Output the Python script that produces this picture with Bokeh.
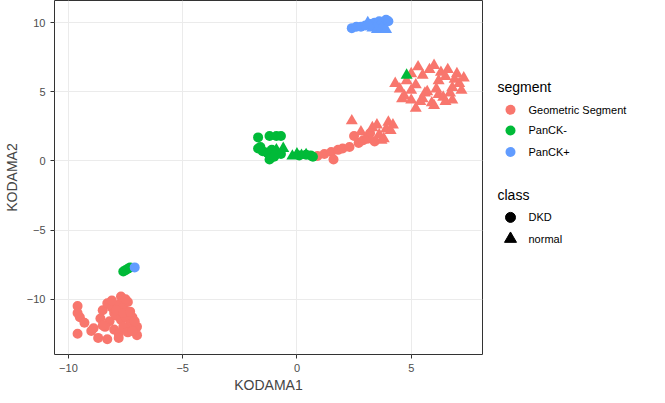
from bokeh.plotting import figure
from bokeh.layouts import row
from bokeh.models import Range1d
from bokeh.core.properties import value
from bokeh.embed import file_html
from bokeh.resources import INLINE

COLORS = {"Geometric Segment": "#F8766D", "PanCK-": "#00BA38", "PanCK+": "#619CFF"}

# (x, y) values, per segment and class
geo_dkd_x = [-9.6, -9.5, -9.3, -9.6, -9.6, -9.0, -8.7, -8.5, -8.3, -8.1, -8.0, -7.8, -7.6, -7.4, -7.2, -7.0,
             -8.6, -8.2, -7.9, -7.7, -7.5, -7.3, -8.4, -8.0, -7.8, -7.6, -7.4, -7.1, -8.1, -7.7, -7.5, -7.0,
             -8.9, -8.3, -7.8, -7.9, -7.6, -7.3, -8.5, -7.2,
             0.9, 1.2, 1.5, 1.8, 2.0, 2.3, 1.6, 2.7, 2.9, 3.2, 2.5, 3.1, 3.4]
geo_dkd_y = [-10.5, -11.3, -11.7, -11.0, -12.5, -12.3, -12.8, -10.8, -10.3, -10.6, -11.0, -10.4, -10.6, -10.2, -11.3, -12.0,
             -11.4, -11.6, -11.2, -11.5, -11.3, -11.8, -12.0, -12.2, -12.5, -12.0, -12.4, -11.6, -10.1, -9.8, -10.0, -12.6,
             -12.1, -12.9, -12.8, -10.8, -11.0, -10.9, -11.9, -12.3,
             0.35, 0.5, 0.65, 0.8, 0.9, 1.0, 0.1, 1.3, 1.5, 2.0, 1.8, 1.6, 1.4]
geo_norm_x = [2.4, 2.8, 3.0, 3.3, 3.5, 3.7, 3.9, 4.0, 4.2, 3.6, 3.8, 4.1,
              4.3, 4.5, 4.6, 4.8, 5.0, 5.2, 5.3, 5.5, 5.6, 5.8, 6.0, 6.2, 6.3, 6.5, 6.6, 6.8, 7.0, 7.2,
              4.7, 5.0, 5.4, 5.7, 6.1, 6.4, 6.7, 7.1, 5.2, 5.9, 6.5, 6.9, 5.5, 6.2, 5.0, 6.0, 6.8, 7.3]
geo_norm_y = [2.9, 2.1, 1.6, 2.4, 2.6, 1.5, 2.3, 2.8, 2.6, 1.9, 1.6, 2.2,
              5.6, 5.2, 4.5, 5.8, 6.3, 5.5, 6.8, 6.2, 4.9, 6.6, 6.9, 5.8, 6.4, 6.1, 6.6, 5.3, 6.3, 5.1,
              4.7, 4.4, 4.3, 5.0, 5.2, 4.6, 4.9, 5.6, 3.8, 4.2, 4.3, 5.9, 4.5, 4.8, 5.1, 4.0, 4.4, 6.0]
pos_dkd_x = [2.4, 2.6, 2.8, 3.0, 3.2, 3.4, 3.6, 3.7, 3.9, 4.0, -7.1]
pos_dkd_y = [9.6, 9.7, 9.7, 9.8, 9.9, 10.0, 10.1, 9.9, 10.2, 10.1, -7.7]
pos_norm_x = [3.3, 3.5, 3.7, 3.9, 3.1]
pos_norm_y = [9.6, 9.5, 9.6, 9.5, 10.0]
neg_dkd_x = [-1.7, -1.2, -0.9, -0.7, -1.7, -1.5, -1.3, -1.1, -0.9, -1.2, -1.0, -0.7, -1.6, 0.6, 0.7, 0.4, 0.1,
             -7.6, -7.5, -7.4, -7.3]
neg_dkd_y = [1.7, 1.8, 1.8, 1.8, 0.9, 0.7, 0.6, 0.8, 0.5, 0.1, 0.3, 0.5, 1.0, 0.4, 0.3, 0.45, 0.4,
             -8.0, -7.9, -7.8, -7.7]
neg_norm_x = [-0.9, -0.6, -0.2, 0.0, 0.2, 0.4, 4.8]
neg_norm_y = [0.8, 0.9, 0.35, 0.5, 0.4, 0.45, 6.2]

groups = [
    ("Geometric Segment", "circle", geo_dkd_x, geo_dkd_y),
    ("Geometric Segment", "triangle", geo_norm_x, geo_norm_y),
    ("PanCK-", "circle", neg_dkd_x, neg_dkd_y),
    ("PanCK-", "triangle", neg_norm_x, neg_norm_y),
    ("PanCK+", "circle", pos_dkd_x, pos_dkd_y),
    ("PanCK+", "triangle", pos_norm_x, pos_norm_y),
]

FONT = "Liberation Sans"

p = figure(width=485, height=395, output_backend="svg", toolbar_location=None,
           x_range=Range1d(-10.61, 8.12), y_range=Range1d(-14.0, 11.6),
           min_border_left=39, min_border_right=3, min_border_top=0, min_border_bottom=39)
for seg, mk, xs, ys in groups:
    p.scatter(xs, ys, marker=mk, size=10 if mk == "circle" else 12, color=COLORS[seg], line_color=None)

p.xaxis.ticker = [-10, -5, 0, 5]
p.yaxis.ticker = [-10, -5, 0, 5, 10]
for ax in (p.xaxis, p.yaxis):
    ax.axis_line_color = None
    ax.major_tick_line_color = "#333333"
    ax.minor_tick_line_color = None
    ax.major_tick_out = 4
    ax.major_tick_in = 0
    ax.major_label_text_color = "#4D4D4D"
    ax.major_label_text_font_size = "11px"
    ax.axis_label_text_font_style = "normal"
    ax.axis_label_text_font_size = "14px"
    ax.axis_label_text_font = FONT
    ax.major_label_text_font = FONT
p.xaxis.axis_label = "KODAMA1"
p.yaxis.axis_label = "KODAMA2"
p.xaxis.axis_label_standoff = 2
p.yaxis.axis_label_standoff = 4
p.yaxis.major_label_orientation = "horizontal"
p.grid.grid_line_color = "#EBEBEB"
p.grid.minor_grid_line_color = "#F5F5F5"
p.outline_line_color = "#333333"
p.outline_line_width = 1

# legend panel
lg = figure(width=164, height=395, output_backend="svg", toolbar_location=None,
            x_range=Range1d(0, 164), y_range=Range1d(395, 0), min_border=0)
lg.axis.visible = False
lg.grid.visible = False
lg.outline_line_color = None
lg.text(x=[12, 12], y=[97, 217], text=["segment", "class"], text_font_size="14px",
        text_baseline="middle", text_font=value(FONT))
segs = list(COLORS)
lg.scatter([25] * 3, [122, 145, 169], size=10, color=[COLORS[s] for s in segs], line_color=None)
lg.text(x=[43] * 3, y=[122, 145, 169], text=segs, text_font_size="11px", text_baseline="middle",
        text_font=value(FONT))
lg.scatter([25, 25], [242, 266], marker=["circle", "triangle"], size=[10, 12], color="black")
lg.text(x=[43, 43], y=[242, 266], text=["DKD", "normal"], text_font_size="11px", text_baseline="middle",
        text_font=value(FONT))

layout = row(p, lg, spacing=0)
open("out.html", "w").write(file_html(layout, INLINE))
